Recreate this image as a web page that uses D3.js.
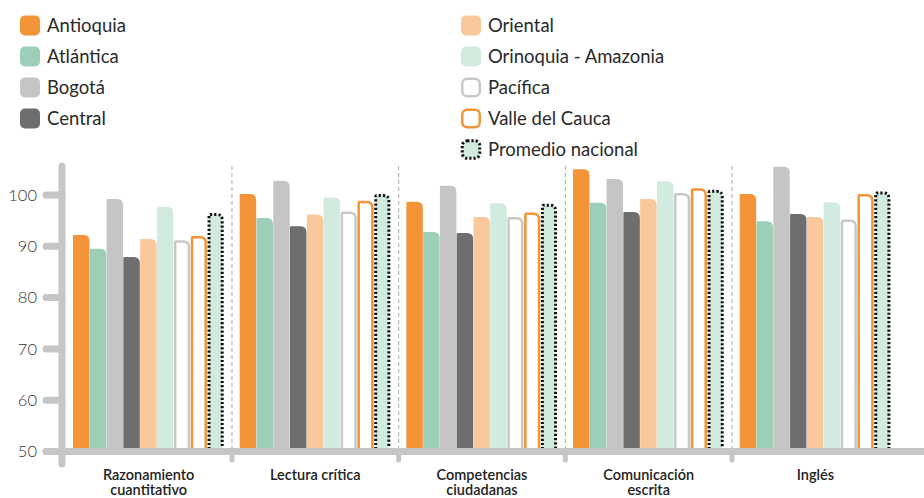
<!DOCTYPE html>
<html><head><meta charset="utf-8">
<script src="https://cdn.jsdelivr.net/npm/d3@7"></script>
<style>body{margin:0;background:#fff;}svg{display:block;font-family:Lato,"Open Sans",sans-serif;}</style>
</head><body><svg id="c" width="924" height="498"></svg>
<script>
const categories = [["Razonamiento","cuantitativo"],["Lectura crítica"],["Competencias","ciudadanas"],["Comunicación","escrita"],["Inglés"]];
const series = ["Antioquia","Atlántica","Bogotá","Central","Oriental","Orinoquia - Amazonia","Pacífica","Valle del Cauca","Promedio nacional"];
const antioquia = [92.2,100.2,98.7,105.0,100.2];
const atlantica = [89.5,95.5,92.8,98.5,94.9];
const bogota    = [99.2,102.8,101.8,103.1,105.5];
const central   = [87.9,93.9,92.6,96.7,96.3];
const oriental  = [91.4,96.2,95.7,99.2,95.7];
const orinoquia = [97.7,99.5,98.4,102.7,98.6];
const pacifica  = [91.2,96.8,95.7,100.4,95.2];
const valle     = [92.0,98.9,96.6,101.3,100.2];
const promedio  = [96.5,100.2,98.3,101.0,100.7];
const yTicks = [50,60,70,80,90,100];

const values = [antioquia,atlantica,bogota,central,oriental,orinoquia,pacifica,valle,promedio];
const styles = [
  {fill:"#f39438"},{fill:"#9dcfb8"},{fill:"#c5c5c5"},{fill:"#6e6e6e"},
  {fill:"#f9c99d"},{fill:"#d3eadf"},
  {fill:"#fff",stroke:"#c8c8c8",sw:2.5},
  {fill:"#fff",stroke:"#f39438",sw:2.5},
  {fill:"#d3eadf",stroke:"#111",sw:3,dash:"2.2,2"}
];
const svg = d3.select("#c");
const grey = "#c6c6c6";
const y = d3.scaleLinear().domain([50,100]).range([451.5,195]);
const x0 = d3.scaleBand().domain(d3.range(categories.length)).range([65.3,898.7]);
const x1 = d3.scaleBand().domain(d3.range(series.length)).range([7.7,158.7]);

function barPath(x,yt,w,yb,rl,rr){
  return `M${x},${yb}V${yt+rl}Q${x},${yt} ${x+rl},${yt}H${x+w-rr}Q${x+w},${yt} ${x+w},${yt+rr}V${yb}`;
}

// dashed separators
categories.forEach((c,i)=>{ if(i>0){
  const sx = x0(i);
  svg.append("line").attr("x1",sx).attr("x2",sx).attr("y1",166).attr("y2",451)
    .attr("stroke","#a8a8a8").attr("stroke-width",1).attr("stroke-dasharray","4,3");
}});

// bars
const yb = y(50)+2;
categories.forEach((c,ci)=>{
  series.forEach((s,si)=>{
    const st = styles[si];
    const v = values[si][ci];
    let bx = x0(ci)+x1(si), bw = x1.bandwidth(), top = y(v);
    if(st.stroke){
      const h = st.sw/2;
      bx += h+0.3; bw -= st.sw+0.6; top += h;
      svg.append("path").attr("d",barPath(bx,top,bw,yb,1,5.5))
        .attr("fill",st.fill).attr("stroke",st.stroke).attr("stroke-width",st.sw)
        .attr("stroke-dasharray",st.dash||null);
    } else {
      svg.append("path").attr("d",barPath(bx,top,bw-0.3,yb,1,6)+"Z").attr("fill",st.fill);
    }
  });
});

// axes
svg.append("line").attr("x1",62).attr("x2",62).attr("y1",166).attr("y2",464)
  .attr("stroke",grey).attr("stroke-width",7).attr("stroke-linecap","round");
svg.append("line").attr("x1",46).attr("x2",930).attr("y1",y(50)).attr("y2",y(50))
  .attr("stroke",grey).attr("stroke-width",7).attr("stroke-linecap","round");
yTicks.forEach(t=>{
  svg.append("line").attr("x1",46).attr("x2",62).attr("y1",y(t)).attr("y2",y(t))
    .attr("stroke",grey).attr("stroke-width",7).attr("stroke-linecap","round");
  svg.append("text").attr("x",37).attr("y",y(t)).attr("dy","0.35em").attr("text-anchor","end")
    .attr("font-size",16.5).attr("font-weight",300).attr("fill","#333").text(t);
});
categories.forEach((c,i)=>{ if(i>0){
  svg.append("line").attr("x1",x0(i)).attr("x2",x0(i)).attr("y1",y(50)).attr("y2",460)
    .attr("stroke",grey).attr("stroke-width",5).attr("stroke-linecap","round");
}});
categories.forEach((c,i)=>{
  const cx = x0(i)+x0.bandwidth()/2;
  c.forEach((line,li)=>{
    svg.append("text").attr("x",cx).attr("y",479.5+li*15.5).attr("text-anchor","middle")
      .attr("font-size",14.5).attr("font-weight",600).attr("fill","#222").text(line);
  });
});

// legend
series.forEach((s,i)=>{
  const col = i<4?0:1, row = i<4?i:i-4;
  const lx = col===0?20:461, cy = 26+row*31;
  const st = styles[i];
  const r = svg.append("rect").attr("rx",5).attr("ry",5);
  if(st.stroke){
    r.attr("x",lx+1.25).attr("y",cy-9.25).attr("width",17.5).attr("height",17.5)
     .attr("fill",st.fill).attr("stroke",st.stroke).attr("stroke-width",st.sw)
     .attr("stroke-dasharray",st.dash||null);
  } else {
    r.attr("x",lx).attr("y",cy-10.5).attr("width",20).attr("height",20).attr("fill",st.fill);
  }
  svg.append("text").attr("x",lx+27).attr("y",cy).attr("dy","0.35em")
    .attr("font-size",18.5).attr("fill","#2a2a2a").text(s);
});
</script></body></html>
